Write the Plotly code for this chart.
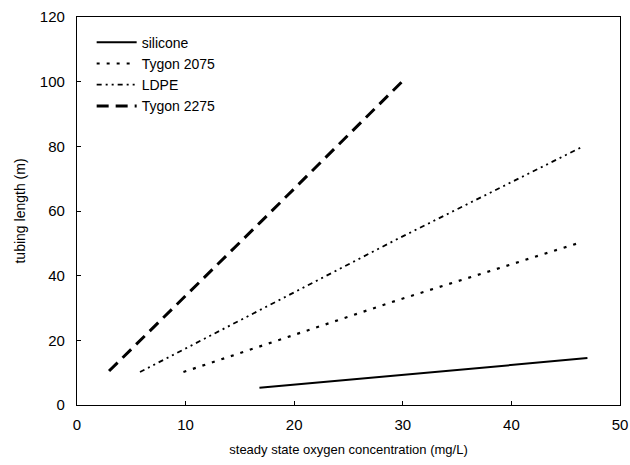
import plotly.graph_objects as go

# steady state oxygen concentration (mg/L) vs tubing length (m)
silicone_x = [16.8, 32.0, 47.0]
silicone_y = [5.3, 10.0, 14.5]

tygon2075_x = [9.8, 29.6, 46.2]
tygon2075_y = [10.2, 32.5, 50.1]

ldpe_x = [5.8, 29.6, 46.5]
ldpe_y = [10.2, 51.5, 79.8]

tygon2275_x = [2.95, 16.85, 29.9]
tygon2275_y = [10.5, 56.4, 99.9]

x_ticks = [0, 10, 20, 30, 40, 50]
y_ticks = [0, 20, 40, 60, 80, 100, 120]

fig = go.Figure()
fig.add_trace(go.Scatter(x=silicone_x, y=silicone_y, mode="lines", name="silicone",
                         line=dict(color="black", width=2, dash="solid")))
fig.add_trace(go.Scatter(x=tygon2075_x, y=tygon2075_y, mode="lines", name="Tygon 2075",
                         line=dict(color="black", width=2.2, dash="3px,7px")))
fig.add_trace(go.Scatter(x=ldpe_x, y=ldpe_y, mode="lines", name="LDPE",
                         line=dict(color="black", width=1.8, dash="5px,4px,2px,4px,2px,4px")))
fig.add_trace(go.Scatter(x=tygon2275_x, y=tygon2275_y, mode="lines", name="Tygon 2275",
                         line=dict(color="black", width=3, dash="12px,7px")))

axis_font = dict(family="Liberation Sans, Arial, sans-serif", size=15, color="black")

fig.update_layout(
    width=630, height=465,
    margin=dict(l=77, r=10, t=17, b=60),
    paper_bgcolor="white", plot_bgcolor="white",
    font=dict(family="Liberation Sans, Arial, sans-serif", color="black"),
    showlegend=True,
    legend=dict(x=0.027, y=0.975, xanchor="left", yanchor="top",
                bgcolor="rgba(0,0,0,0)", borderwidth=0,
                font=dict(size=14, color="black"),
                tracegroupgap=0, itemwidth=40),
    xaxis=dict(range=[0, 50], tickvals=x_ticks, ticktext=[str(v) for v in x_ticks],
               automargin=False,
               showgrid=False, zeroline=False, showline=True, linecolor="black",
               linewidth=1.2, mirror=True, ticks="inside", ticklen=4, tickcolor="black",
               tickfont=axis_font, ticklabelstandoff=6,
               title=dict(text="steady state oxygen concentration (mg/L)",
                          font=dict(size=13, color="black"), standoff=12)),
    yaxis=dict(range=[0, 120], tickvals=y_ticks, ticktext=[str(v) for v in y_ticks],
               automargin=False,
               showgrid=False, zeroline=False, showline=True, linecolor="black",
               linewidth=1.2, mirror=True, ticks="inside", ticklen=4, tickcolor="black",
               tickfont=axis_font, ticklabelstandoff=8,
               title=dict(text="tubing length (m)",
                          font=dict(size=14, color="black"), standoff=10)),
)

fig.write_html("out.html", config={"displayModeBar": False},
               post_script="document.body.style.margin='0';document.body.style.overflow='hidden';")
